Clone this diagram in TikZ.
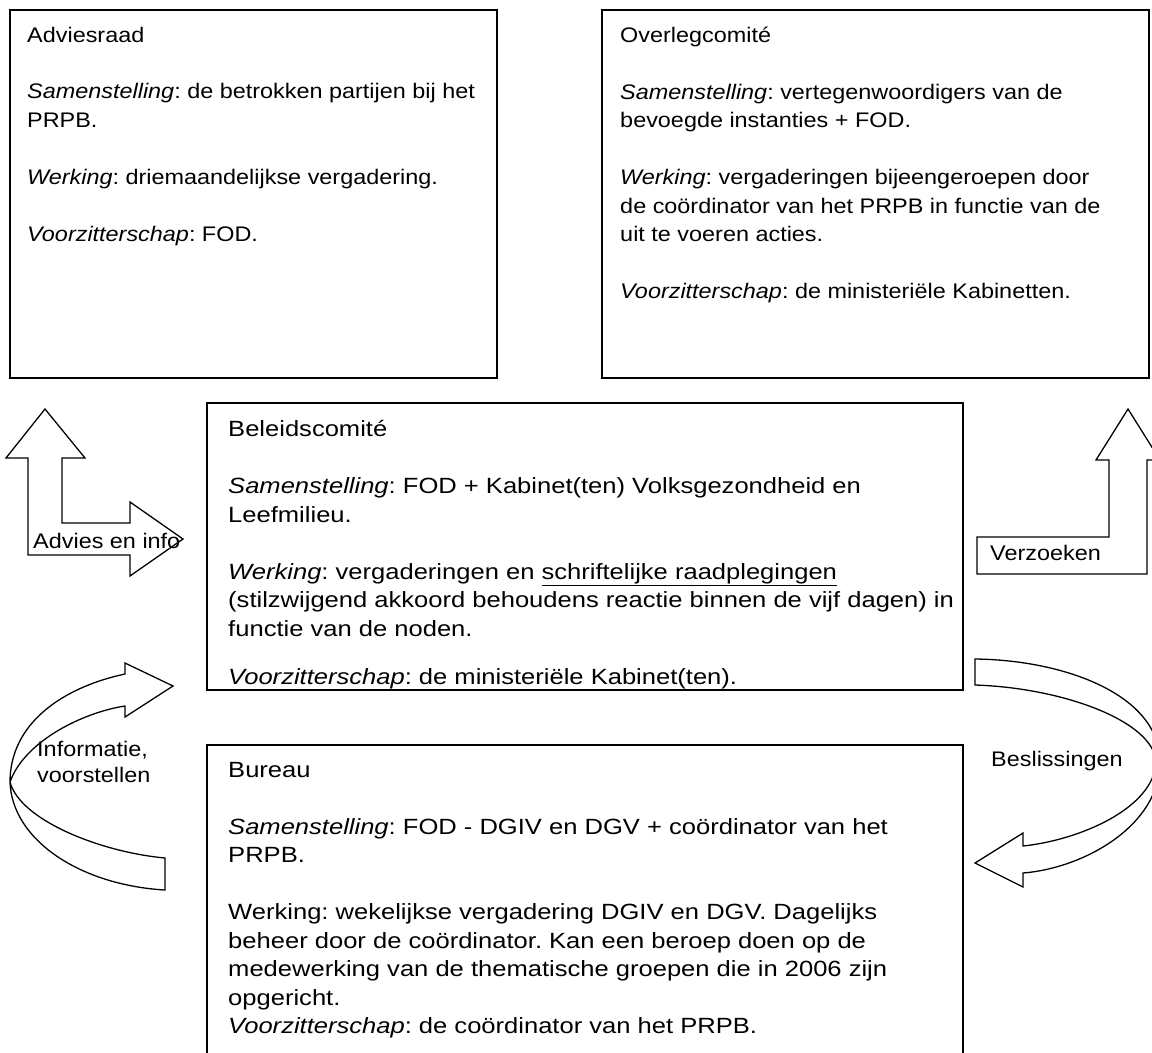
\documentclass[tikz,border=0pt]{standalone}
\usepackage{fontspec}
\setmainfont{Liberation Sans}
\newfontfamily\smalletter[FakeStretch=1.11]{Liberation Sans}
\newfontfamily\breedletter[FakeStretch=1.16]{Liberation Sans}
\frenchspacing
\begin{document}
\begin{tikzpicture}[x=0.03cm, y=-0.03cm,
  kader/.style={line width=1.4pt},
  pijl/.style={line width=1.1pt},
  tekst/.style={anchor=north west, inner sep=0pt, align=left, font=\smalletter\fontsize{18}{24.3}\selectfont},
  bredetekst/.style={tekst, font=\breedletter\fontsize{18.8}{24.3}\selectfont},
  bijschrift/.style={anchor=base west, inner sep=0pt, align=left, font=\smalletter\fontsize{18}{21.5}\selectfont}]
	\useasboundingbox (0,0) rectangle (1152,1052);
	\clip (0,0) rectangle (1152,1052);
	% Kaders:
	\draw[kader] (10,10) rectangle (497,378);
	\draw[kader] (602,10) rectangle (1149,378);
	\draw[kader] (207,403) rectangle (963,690);
	\draw[kader] (207,1060) |- (963,745) -- (963,1060);
	% Teksten in de kaders:
	\node[tekst] (adviesraad) at (27,26.5) {Adviesraad\\[24.3pt]
		\textit{Samenstelling}: de betrokken partijen bij het\\ PRPB.\\[24.3pt]
		\textit{Werking}: driemaandelijkse vergadering.\\[24.3pt]
		\textit{Voorzitterschap}: FOD.};
	\node[tekst] (overleg) at (620,26.5) {Overlegcomité\\[24.3pt]
		\textit{Samenstelling}: vertegenwoordigers van de\\ bevoegde instanties + FOD.\\[24.3pt]
		\textit{Werking}: vergaderingen bijeengeroepen door\\ de coördinator van het PRPB in functie van de\\ uit te voeren acties.\\[24.3pt]
		\textit{Voorzitterschap}: de ministeriële Kabinetten.};
	\node[bredetekst] (beleid) at (228,420.5) {Beleidscomité\\[24.3pt]
		\textit{Samenstelling}: FOD + Kabinet(ten) Volksgezondheid en\\ Leefmilieu.\\[24.3pt]
		\textit{Werking}: vergaderingen en \underline{schriftelijke raadplegingen}\\ (stilzwijgend akkoord behoudens reactie binnen de vijf dagen) in\\ functie van de noden.\\[16.6pt]
		\textit{Voorzitterschap}: de ministeriële Kabinet(ten).};
	\node[bredetekst] (bureau) at (228,762) {Bureau\\[24.3pt]
		\textit{Samenstelling}: FOD - DGIV en DGV + coördinator van het\\ PRPB.\\[24.3pt]
		Werking: wekelijkse vergadering DGIV en DGV. Dagelijks\\ beheer door de coördinator. Kan een beroep doen op de\\ medewerking van de thematische groepen die in 2006 zijn\\ opgericht.\\
		\textit{Voorzitterschap}: de coördinator van het PRPB.};
	% Pijlen:
	\draw[pijl] (45,409) -- (85,458) -- (62,458) -- (62,523) -- (130,523) -- (130,502)
		-- (183,539) -- (130,576) -- (130,555) -- (28,555) -- (28,458) -- (6,458) -- cycle;
	\draw[pijl] (977,537) -- (1109,537) -- (1109,460) -- (1096,460) -- (1128,409) -- (1160,460)
		-- (1147,460) -- (1147,574) -- (977,574) -- cycle;
	\draw[pijl] (975,659) .. controls (1065,660) and (1160,695) .. (1160,762)
		.. controls (1160,825) and (1085,868) .. (1023,873) -- (1023,887) -- (975,863)
		-- (1023,833) -- (1023,846) .. controls (1080,840) and (1154,808) .. (1156,762)
		.. controls (1154,722) and (1065,688) .. (975,685) -- cycle;
	\draw[pijl] (125,674) -- (125,663) -- (173,686) -- (125,717) -- (125,706)
		.. controls (85,712) and (25,740) .. (10,782)
		.. controls (20,820) and (100,852) .. (165,858) -- (165,890)
		.. controls (80,885) and (12,840) .. (10,782)
		.. controls (10,725) and (60,688) .. (125,674) -- cycle;
	% Bijschriften:
	\node[bijschrift] (advies) at (33,548) {Advies en info};
	\node[bijschrift] (verzoeken) at (990,560) {Verzoeken};
	\node[bijschrift] (beslissingen) at (991,766) {Beslissingen};
	\node[bijschrift] (informatie) at (37,782) {Informatie,\\voorstellen};
\end{tikzpicture}
\end{document}
